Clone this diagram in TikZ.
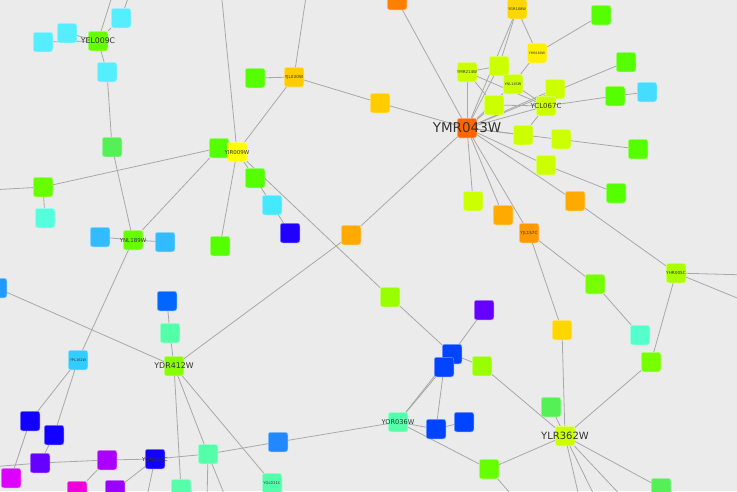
\documentclass[tikz,border=0pt]{standalone}
\usepackage{fontspec}
\setsansfont{DejaVu Sans}
\usetikzlibrary{backgrounds}
\definecolor{bgc}{HTML}{EBEBEB}
\definecolor{edgec}{HTML}{A8A8A8}
\definecolor{txtc}{HTML}{333333}
\definecolor{cyanA}{HTML}{55EEFF}
\definecolor{cyanB}{HTML}{44E8FF}
\definecolor{cyanC}{HTML}{44DDFF}
\definecolor{grnA}{HTML}{66FF00}
\definecolor{grnB}{HTML}{55FF00}
\definecolor{grnL}{HTML}{55F055}
\definecolor{aqua}{HTML}{55FFDD}
\definecolor{aquaB}{HTML}{55FFAA}
\definecolor{aquaC}{HTML}{55FFCC}
\definecolor{skyA}{HTML}{33BBFF}
\definecolor{skyB}{HTML}{33CCFF}
\definecolor{azure}{HTML}{2299FF}
\definecolor{azureB}{HTML}{2288FF}
\definecolor{bluA}{HTML}{0066FF}
\definecolor{bluB}{HTML}{0044FF}
\definecolor{indigo}{HTML}{1100FF}
\definecolor{indigoB}{HTML}{2200FF}
\definecolor{violetA}{HTML}{6600FF}
\definecolor{purpA}{HTML}{AA00FF}
\definecolor{purpB}{HTML}{9900FF}
\definecolor{magA}{HTML}{DD00FF}
\definecolor{magB}{HTML}{EE00DD}
\definecolor{orgA}{HTML}{FF6600}
\definecolor{orgB}{HTML}{FF8000}
\definecolor{orgC}{HTML}{FF9900}
\definecolor{ambr}{HTML}{FFAA00}
\definecolor{goldA}{HTML}{FFCC00}
\definecolor{goldB}{HTML}{FFD700}
\definecolor{yelA}{HTML}{FFFF00}
\definecolor{yelB}{HTML}{FFEE00}
\definecolor{limeA}{HTML}{CCFF00}
\definecolor{limeB}{HTML}{AAFF00}
\definecolor{limeC}{HTML}{99FF00}
\definecolor{limeD}{HTML}{88FF00}
\definecolor{limeE}{HTML}{77FF00}
\begin{document}
\begin{tikzpicture}[x=1pt,y=-1pt,
  gene/.style={draw=#1!55!white, fill=#1, rounded corners=2.5pt, minimum size=19.5pt, inner sep=0pt, line width=0.5pt},
  lbl/.style={font=\sffamily\fontsize{#1}{#1}\selectfont, text=txtc, inner sep=0pt},
  link/.style={draw=edgec, line width=0.8pt}]
\useasboundingbox (0,0) rectangle (737,491);
\node[gene=cyanA] (c1) at (43,42) {};
\node[gene=cyanA] (c2) at (67,33) {};
\node[gene=cyanA] (c3) at (121,18) {};
\node[gene=cyanA] (c4) at (107,72) {};
\node[gene=grnA, label={[lbl=7.8]center:YEL009C}] (yel) at (98,41) {};
\node[gene=grnL] (g1) at (112,147) {};
\node[gene=grnA] (g2) at (43,187) {};
\node[gene=aqua] (q1) at (45,218) {};
\node[gene=skyA] (s1) at (100,237) {};
\node[gene=skyA] (s2) at (165,242) {};
\node[gene=grnA, label={[lbl=5.5]center:YNL189W}] (ynl) at (133,240) {};
\node[gene=azure] (z1) at (-3,288) {};
\node[gene=bluA] (b1) at (167,301) {};
\node[gene=aquaB] (q2) at (170,333) {};
\node[gene=skyB, label={[lbl=3.5]center:YPL161W}] (ypl) at (78,360) {};
\node[gene=limeD, label={[lbl=7.9]center:YDR412W}] (ydr) at (174,366) {};
\node[gene=indigo] (i1) at (30,421) {};
\node[gene=indigo] (i2) at (54,435) {};
\node[gene=violetA] (v1) at (40,463) {};
\node[gene=magA] (m1) at (11,478) {};
\node[gene=purpA] (p1) at (107,460) {};
\node[gene=purpB] (p2) at (115,490) {};
\node[gene=magB] (m2) at (77,491) {};
\node[gene=indigo, label={[lbl=5.5]center:YOR020C}] (yor) at (155,459) {};
\node[gene=aquaB] (q3) at (181,489) {};
\node[gene=aquaB] (q4) at (208,454) {};
\node[gene=aquaB, label={[lbl=3.8]center:YGL011C}] (ygl) at (272,483) {};
\node[gene=azureB] (z2) at (278,442) {};
\node[gene=grnB] (g3) at (255,78) {};
\node[gene=goldA, label={[lbl=4.2]center:YJL030W}] (yjl) at (294,77) {};
\node[gene=goldA] (a1) at (380,103) {};
\node[gene=orgB] (o1) at (397,0) {};
\node[gene=grnB] (g4) at (219,148) {};
\node[gene=yelA, label={[lbl=5.5]center:YIR009W}] (yir) at (237,152) {};
\node[gene=grnB] (g5) at (255,178) {};
\node[gene=cyanB] (c5) at (272,205) {};
\node[gene=indigoB] (i3) at (290,233) {};
\node[gene=grnB] (g6) at (220,246) {};
\node[gene=ambr] (a2) at (351,235) {};
\node[gene=limeC] (l1) at (390,297) {};
\node[gene=goldB, label={[lbl=3.6]center:YGR108W}] (ygr) at (517,9) {};
\node[gene=yelB, label={[lbl=3.2]center:YMR160W}] (y160) at (537,53) {};
\node[gene=limeA, label={[lbl=4]center:YMR214W}] (y214) at (467,72) {};
\node[gene=limeA] (l2) at (499,66) {};
\node[gene=limeA, label={[lbl=3.5]center:YNL145W}] (y145) at (513,84) {};
\node[gene=limeA] (l3) at (494,105) {};
\node[gene=limeA] (l4) at (555,89) {};
\node[gene=limeA, label={[lbl=7]center:YCL067C}] (ycl) at (546,106) {};
\node[gene=limeA] (l5) at (523,135) {};
\node[gene=limeA] (l6) at (561,139) {};
\node[gene=limeA] (l7) at (546,165) {};
\node[gene=limeA] (l8) at (473,201) {};
\node[gene=orgA, label={[lbl=13.5]center:YMR043W}] (ymr) at (467,128) {};
\node[gene=grnB] (g7) at (601,15) {};
\node[gene=grnB] (g8) at (626,62) {};
\node[gene=grnB] (g9) at (615,96) {};
\node[gene=cyanC] (c6) at (647,92) {};
\node[gene=grnB] (g10) at (638,149) {};
\node[gene=grnB] (g11) at (616,193) {};
\node[gene=ambr] (a3) at (503,215) {};
\node[gene=ambr] (a4) at (575,201) {};
\node[gene=orgC, label={[lbl=4.2]center:YJL157C}] (yjl157) at (529,233) {};
\node[gene=limeE] (e1) at (595,284) {};
\node[gene=aquaC] (q5) at (640,335) {};
\node[gene=limeB, label={[lbl=4.2]center:YHR005C}] (yhr) at (676,273) {};
\node[gene=limeE] (e2) at (651,362) {};
\node[gene=goldB] (d1) at (562,330) {};
\node[gene=violetA] (v2) at (484,310) {};
\node[gene=bluB] (b2) at (452,354) {};
\node[gene=bluB] (b3) at (444,367) {};
\node[gene=limeC] (l9) at (482,366) {};
\node[gene=aquaB, label={[lbl=6.6]center:YOR036W}] (yor36) at (398,422) {};
\node[gene=bluB] (b4) at (436,429) {};
\node[gene=bluB] (b5) at (464,422) {};
\node[gene=grnL] (gl2) at (551,407) {};
\node[gene=limeA, label={[lbl=10]center:YLR362W}] (ylr) at (565,436) {};
\node[gene=grnA] (g12) at (489,469) {};
\node[gene=grnL] (gl3) at (661,488) {};
\coordinate (t1) at (114,-10);
\coordinate (t2) at (131,-10);
\coordinate (t3) at (221,-10);
\coordinate (t4) at (307,-10);
\coordinate (w1) at (-10,190);
\coordinate (w2) at (-10,467);
\coordinate (r1) at (747,275);
\coordinate (r2) at (747,302);
\coordinate (u1) at (146,501);
\coordinate (u2) at (207,501);
\coordinate (u3) at (227,501);
\coordinate (u4) at (517,501);
\coordinate (u5) at (580,501);
\coordinate (u6) at (597,501);
\coordinate (u7) at (626,501);
\begin{scope}[on background layer]
\fill[bgc] (0,0) rectangle (737,491);
\draw[link] (yel) -- (c1);
\draw[link] (yel) -- (c2);
\draw[link] (yel) -- (c3);
\draw[link] (yel) -- (c4);
\draw[link] (yel) -- (t1);
\draw[link] (c3) -- (t2);
\draw[link] (c4) -- (g1);
\draw[link] (g1) -- (ynl);
\draw[link] (g2) -- (w1);
\draw[link] (g2) -- (g4);
\draw[link] (g2) -- (q1);
\draw[link] (s1) -- (ynl);
\draw[link] (ynl) -- (s2);
\draw[link] (ynl) -- (g4);
\draw[link] (ynl) -- (ypl);
\draw[link] (z1) -- (ydr);
\draw[link] (ypl) -- (i1);
\draw[link] (ypl) -- (i2);
\draw[link] (i1) -- (m1);
\draw[link] (i2) -- (v1);
\draw[link] (w2) -- (v1);
\draw[link] (v1) -- (p1);
\draw[link] (p1) -- (yor);
\draw[link] (p1) -- (m2);
\draw[link] (yor) -- (p2);
\draw[link] (yor) -- (u1);
\draw[link] (yor) -- (q4);
\draw[link] (q4) -- (z2);
\draw[link] (z2) -- (yor36);
\draw[link] (q4) -- (u2);
\draw[link] (q4) -- (u3);
\draw[link] (ydr) -- (q2);
\draw[link] (q2) -- (b1);
\draw[link] (ydr) -- (a2);
\draw[link] (a2) -- (ymr);
\draw[link] (ydr) -- (q4);
\draw[link] (ydr) -- (q3);
\draw[link] (ydr) -- (ygl);
\draw[link] (g4) -- (yir);
\draw[link] (yir) -- (t3);
\draw[link] (yir) -- (yjl);
\draw[link] (yjl) -- (g3);
\draw[link] (yjl) -- (t4);
\draw[link] (yjl) -- (a1);
\draw[link] (a1) -- (ymr);
\draw[link] (o1) -- (ymr);
\draw[link] (yir) -- (g5);
\draw[link] (g5) -- (c5);
\draw[link] (c5) -- (i3);
\draw[link] (yir) -- (g6);
\draw[link] (yir) -- (l1);
\draw[link] (l1) -- (b2);
\draw[link] (b2) -- (l9);
\draw[link] (v2) -- (b2);
\draw[link] (b2) -- (yor36);
\draw[link] (b3) -- (yor36);
\draw[link] (b3) -- (b4);
\draw[link] (yor36) -- (b4);
\draw[link] (b4) -- (b5);
\draw[link] (yor36) -- (g12);
\draw[link] (l9) -- (ylr);
\draw[link] (gl2) -- (ylr);
\draw[link] (d1) -- (ylr);
\draw[link] (e2) -- (ylr);
\draw[link] (g12) -- (ylr);
\draw[link] (ylr) -- (gl3);
\draw[link] (ylr) -- (u5);
\draw[link] (ylr) -- (u6);
\draw[link] (ylr) -- (u7);
\draw[link] (g12) -- (u4);
\draw[link] (e2) -- (yhr);
\draw[link] (q5) -- (e1);
\draw[link] (e1) -- (yjl157);
\draw[link] (yjl157) -- (d1);
\draw[link] (ymr) -- (a3);
\draw[link] (ymr) -- (yjl157);
\draw[link] (ymr) -- (a4);
\draw[link] (a4) -- (yhr);
\draw[link] (yhr) -- (r1);
\draw[link] (yhr) -- (r2);
\draw[link] (ymr) -- (l8);
\draw[link] (ymr) -- (l7);
\draw[link] (l7) -- (g11);
\draw[link] (ymr) -- (l5);
\draw[link] (ymr) -- (g10);
\draw[link] (ycl) -- (g9);
\draw[link] (g9) -- (c6);
\draw[link] (ymr) -- (l4);
\draw[link] (ymr) -- (g8);
\draw[link] (y160) -- (g7);
\draw[link] (ygr) -- (l2);
\draw[link] (ygr) -- (y160);
\draw[link] (ygr) -- (ymr);
\draw[link] (y160) -- (y145);
\draw[link] (y214) -- (l2);
\draw[link] (y214) -- (ycl);
\draw[link] (y214) -- (ymr);
\draw[link] (y214) -- (l3);
\draw[link] (l2) -- (ymr);
\draw[link] (l2) -- (y145);
\draw[link] (y145) -- (ymr);
\draw[link] (y145) -- (ycl);
\draw[link] (l3) -- (ycl);
\draw[link] (l3) -- (ymr);
\draw[link] (ycl) -- (ymr);
\draw[link] (ycl) -- (l5);
\end{scope}
\end{tikzpicture}
\end{document}
